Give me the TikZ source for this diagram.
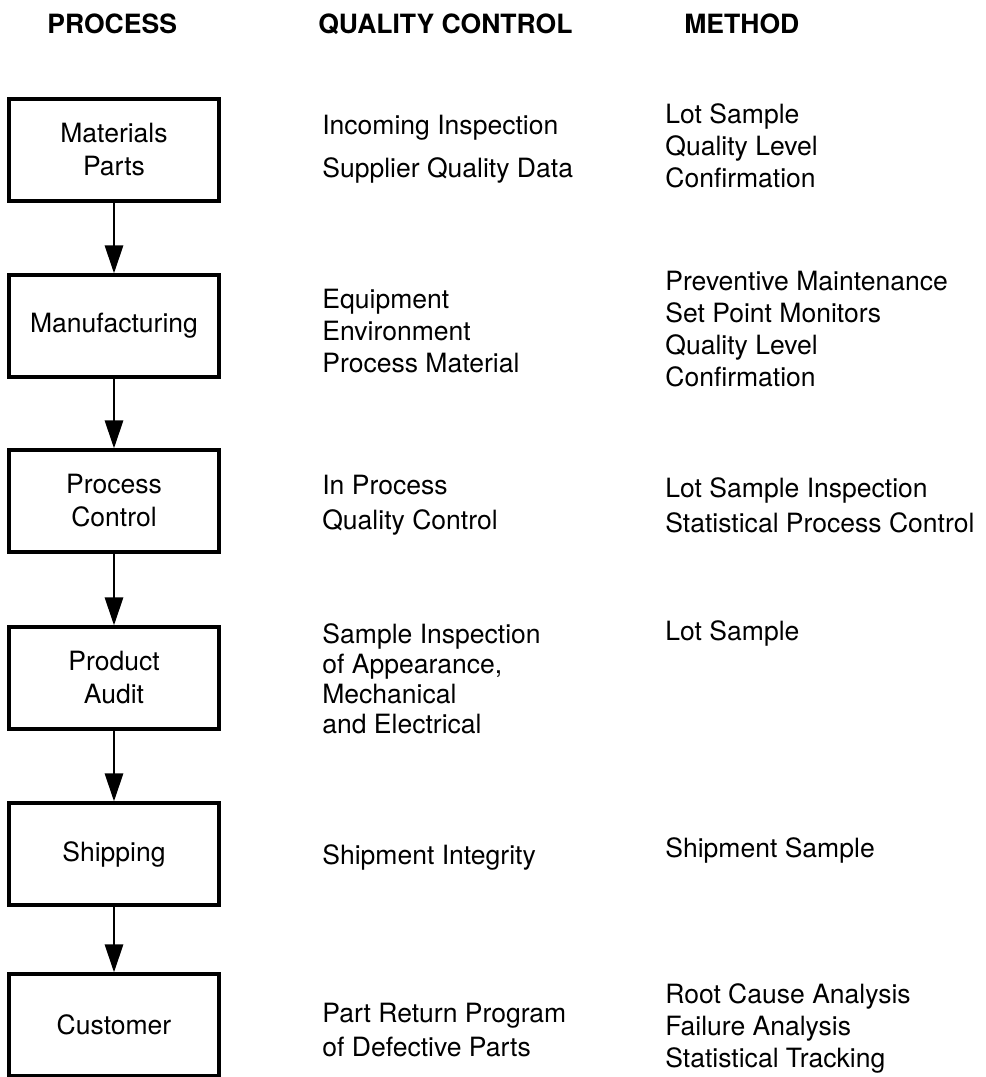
\documentclass[tikz,border=0pt]{standalone}
\usepackage{fontspec}
\setmainfont{TeX Gyre Heros}
\usepackage{tikz}
\usetikzlibrary{arrows.meta}

\begin{document}
\begin{tikzpicture}[x=0.02cm, y=-0.02cm,
  stage/.style={rectangle, draw, line width=1.8pt, minimum width=4.2cm, minimum height=2.04cm, align=center, font=\fontsize{15.1}{18.8}\selectfont},
  note/.style={anchor=west, inner sep=0pt, align=left, font=\fontsize{15.1}{#1}\selectfont},
  note/.default=18.2,
  head/.style={anchor=west, inner sep=0pt, font=\fontsize{15.1}{18}\selectfont\bfseries},
  flow/.style={-{Triangle[length=0.56cm, width=0.36cm]}, line width=1.7pt}]
  \useasboundingbox (0,0) rectangle (985,1077);

  % column titles
  \node[head] (h1) at (47,24) {PROCESS};
  \node[head] (h2) at (318,24) {QUALITY CONTROL};
  \node[head] (h3) at (684,24) {METHOD};

  % process chain
  \node[stage] (s1) at (114,150) {Materials\\Parts};
  \node[stage] (s2) at (114,326) {Manufacturing};
  \node[stage] (s3) at (114,501) {Process\\Control};
  \node[stage] (s4) at (114,678) {Product\\Audit};
  \node[stage] (s5) at (114,854) {Shipping};
  \node[stage] (s6) at (114,1025) {Customer};

  \draw[flow] (s1) -- (s2); \draw[flow] (s2) -- (s3); \draw[flow] (s3) -- (s4);
  \draw[flow] (s4) -- (s5); \draw[flow] (s5) -- (s6);

  % quality control
  \node[note=24.4] (q1) at (322,149) {Incoming Inspection\\Supplier Quality Data};
  \node[note] (q2) at (322,331) {Equipment\\Environment\\Process Material};
  \node[note=19.9] (q3) at (322,505) {In Process\\Quality Control};
  \node[note=17.1] (q4) at (322,679) {Sample Inspection\\of Appearance,\\Mechanical\\and Electrical};
  \node[note] (q5) at (322,857) {Shipment Integrity};
  \node[note=19.9] (q6) at (322,1030) {Part Return Program\\of Defective Parts};

  % methods
  \node[note] (m1) at (665,146) {Lot Sample\\Quality Level\\Confirmation};
  \node[note] (m2) at (665,329) {Preventive Maintenance\\Set Point Monitors\\Quality Level\\Confirmation};
  \node[note=19.9] (m3) at (665,505) {Lot Sample Inspection\\Statistical Process Control};
  \node[note] (m4) at (665,633) {Lot Sample};
  \node[note] (m5) at (665,850) {Shipment Sample};
  \node[note] (m6) at (665,1028) {Root Cause Analysis\\Failure Analysis\\Statistical Tracking};
\end{tikzpicture}
\end{document}
